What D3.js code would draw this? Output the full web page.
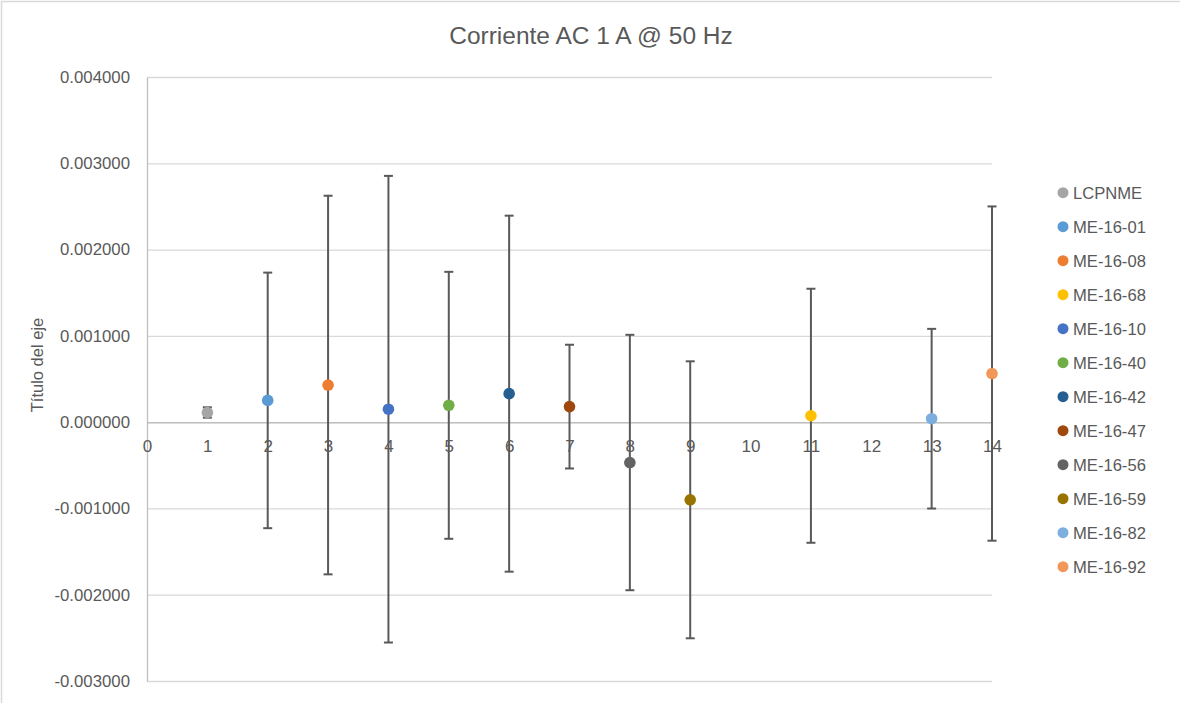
<!DOCTYPE html>
<html>
<head>
<meta charset="utf-8">
<script src="https://cdn.jsdelivr.net/npm/d3@7"></script>
<style>
  html, body { margin: 0; padding: 0; background: #fff; }
  svg { display: block; font-family: "Liberation Sans", Arial, sans-serif; }
</style>
</head>
<body>
<svg id="chart" width="1180" height="703"></svg>
<script>
// Series shown in the legend, in legend order
const seriesNames = ["LCPNME", "ME-16-01", "ME-16-08", "ME-16-68", "ME-16-10", "ME-16-40",
                     "ME-16-42", "ME-16-47", "ME-16-56", "ME-16-59", "ME-16-82", "ME-16-92"];
// Position of each series along the x axis
const xValues = [1, 2, 3, 11, 4, 5, 6, 7, 8, 9, 13, 14];
// Measured value (point) for each series
const yValues = [0.000112, 0.000252, 0.000430, 0.000074, 0.000150, 0.000195,
                 0.000330, 0.000180, -0.000468, -0.000900, 0.000040, 0.000563];
// Symmetric uncertainty (error bar half-length) for each series
const errValues = [0.000060, 0.001481, 0.002194, 0.001472, 0.002704, 0.001547,
                   0.002063, 0.000717, 0.001480, 0.001605, 0.001041, 0.001937];
const seriesColors = ["#A5A5A5", "#5B9BD5", "#ED7D31", "#FFC000", "#4472C4", "#70AD47",
                      "#255E91", "#9E480E", "#636363", "#997300", "#7CAFDD", "#F1975A"];
// Axis ticks
const xTicks = d3.range(0, 15);
const yTicks = [-0.003, -0.002, -0.001, 0, 0.001, 0.002, 0.003, 0.004];

const title = "Corriente AC 1 A @ 50 Hz";
const yAxisTitle = "Título del eje";

const svg = d3.select("#chart");
const textColor = "#595959";

// Six-decimal labels with a plain hyphen for negatives
const fmt6 = v => d3.format(".6f")(v).replace("\u2212", "-");

// Outer chart frame
svg.append("rect")
  .attr("x", 1.5).attr("y", 1.5)
  .attr("width", 1180).attr("height", 703)
  .attr("fill", "none").attr("stroke", "#D9D9D9").attr("stroke-width", 1.5);

const x = d3.scaleLinear().domain([0, 14]).range([147, 992]);
const y = d3.scaleLinear().domain([-0.003, 0.004]).range([681, 77]);

// Horizontal gridlines
const grid = svg.append("g")
  .attr("transform", `translate(${x(0)},0)`)
  .call(d3.axisLeft(y).tickValues(yTicks).tickSize(-(x(14) - x(0))).tickFormat(""));
grid.select(".domain").remove();
grid.selectAll("line").attr("stroke", "#D9D9D9").attr("stroke-width", 1.3);

// Y axis line and labels
const yAxis = svg.append("g")
  .attr("transform", `translate(${x(0)},0)`)
  .call(d3.axisLeft(y).tickValues(yTicks).tickSize(0).tickPadding(17).tickFormat(fmt6));
yAxis.select(".domain").attr("stroke", "#BFBFBF").attr("stroke-width", 1.3);
yAxis.selectAll("text")
  .attr("fill", textColor).attr("font-size", 16.8)
  .attr("font-family", "Liberation Sans, Arial, sans-serif");

// X axis along zero
const xAxis = svg.append("g")
  .attr("transform", `translate(0,${y(0)})`)
  .call(d3.axisBottom(x).tickValues(xTicks).tickSize(0).tickPadding(18).tickFormat(d3.format("d")));
xAxis.select(".domain").attr("stroke", "#BFBFBF").attr("stroke-width", 1.5);
xAxis.selectAll("text")
  .attr("fill", textColor).attr("font-size", 17)
  .attr("font-family", "Liberation Sans, Arial, sans-serif");

// Title
svg.append("text")
  .attr("x", 591).attr("y", 44)
  .attr("text-anchor", "middle")
  .attr("fill", textColor).attr("font-size", 24.5)
  .text(title);

// Y axis title
svg.append("text")
  .attr("transform", `translate(43,365) rotate(-90)`)
  .attr("text-anchor", "middle")
  .attr("fill", textColor).attr("font-size", 16.5)
  .text(yAxisTitle);

const data = seriesNames.map((name, i) => ({
  name, x: xValues[i], y: yValues[i], err: errValues[i], color: seriesColors[i]
}));

// Error bars
const capHalf = 4.5;
const bars = svg.append("g").attr("stroke", "#595959").attr("stroke-width", 2);
data.forEach(d => {
  const g = bars.append("g");
  g.append("line")
    .attr("x1", x(d.x)).attr("x2", x(d.x))
    .attr("y1", y(d.y + d.err)).attr("y2", y(d.y - d.err));
  [d.y + d.err, d.y - d.err].forEach(v => {
    g.append("line")
      .attr("x1", x(d.x) - capHalf).attr("x2", x(d.x) + capHalf)
      .attr("y1", y(v)).attr("y2", y(v));
  });
});

// Markers
svg.append("g").selectAll("circle")
  .data(data).join("circle")
  .attr("cx", d => x(d.x)).attr("cy", d => y(d.y))
  .attr("r", 5.8)
  .attr("fill", d => d.color);

// Legend
const legend = svg.append("g");
const legendRow = d3.scalePoint().domain(seriesNames).range([192.7, 566.7]);
seriesNames.forEach((name, i) => {
  const row = legend.append("g").attr("transform", `translate(0,${legendRow(name)})`);
  row.append("circle").attr("cx", 1063).attr("cy", 0).attr("r", 5.5).attr("fill", seriesColors[i]);
  row.append("text")
    .attr("x", 1073).attr("y", 0).attr("dy", "0.35em")
    .attr("fill", textColor).attr("font-size", 16.6)
    .text(name);
});
</script>
</body>
</html>
